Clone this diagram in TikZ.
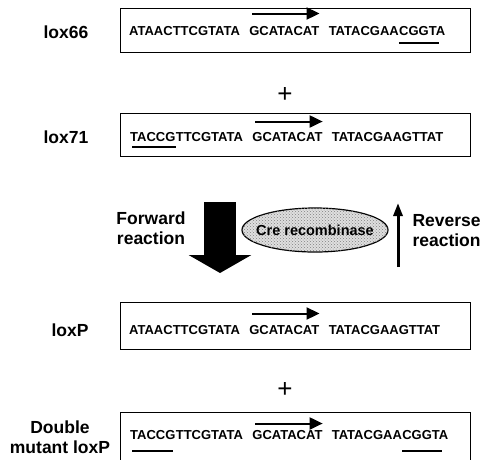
\documentclass[tikz,border=0pt]{standalone}
\usepackage{fontspec}
\setmainfont{Liberation Sans}
\usetikzlibrary{arrows.meta,positioning,shapes.geometric,patterns}

\begin{document}
\begin{tikzpicture}[
    x=1pt, y=-1pt,
    seqbox/.style={draw, line width=1pt, minimum width=350pt, inner sep=0pt},
    seq/.style={inner sep=0pt, text height=9.3pt, text depth=0pt, font=\fontsize{13}{15}\selectfont\bfseries},
    lbl/.style={align=center, font=\fontsize{17.5}{20.5}\selectfont\bfseries},
    plus/.style={font=\fontsize{26}{28}\selectfont, inner sep=0pt},
    dirarrow/.style={line width=2pt, -{Triangle[length=13pt,width=12pt]}},
    mutmark/.style={line width=2.5pt},
    node distance=9pt
]
\clip (0,0) rectangle (484,459);

% lox66
\node[seqbox, minimum height=44pt] (b66) at (295,30) {};
\node[lbl] (n66) at (66,32) {lox66};
\node[seq, anchor=base west] (l66) at (129,35) {ATAACTTCGTATA};
\node[seq, right=of l66] (m66) {GCATACAT};
\node[seq, right=of m66] (r66) {TATACGAA};
\node[seq, right=0pt of r66] (u66) {CGGTA};
\draw[dirarrow] ([xshift=3pt,yshift=12pt]m66.north west) -- ([yshift=12pt]m66.north east);
\draw[mutmark] ([yshift=-8pt]u66.south west) -- ([xshift=-6pt,yshift=-8pt]u66.south east);

\node[plus] (p1) at (285,95) {+};

% lox71
\node[seqbox, minimum height=43pt] (b71) at (295,134.5) {};
\node[lbl] (n71) at (66,137) {lox71};
\node[seq, anchor=base west] (u71) at (130,141) {TACCG};
\node[seq, right=0pt of u71] (l71) {TTCGTATA};
\node[seq, right=of l71] (m71) {GCATACAT};
\node[seq, right=of m71] (r71) {TATACGAAGTTAT};
\draw[dirarrow] ([xshift=3pt,yshift=10pt]m71.north west) -- ([yshift=10pt]m71.north east);
\draw[mutmark] ([xshift=2pt,yshift=-6pt]u71.south west) -- ([yshift=-6pt]u71.south east);

% reaction
\coordinate (fwdtop) at (220,202);
\coordinate (fwdtip) at (220,273);
\draw[line width=32pt, -{Triangle[length=18pt,width=62pt]}] (fwdtop) -- (fwdtip);
\node[lbl] (fwd) at (151,228) {Forward\\reaction};
\node[ellipse, draw, line width=1.2pt, fill=gray!25, postaction={pattern=crosshatch dots, pattern color=gray},
      minimum width=146pt, minimum height=44pt, inner sep=0pt,
      font=\fontsize{14.5}{16}\selectfont\bfseries] (cre) at (315,230) {\makebox[0pt]{Cre recombinase}};
\coordinate (revbot) at (398,267);
\coordinate (revtop) at (398,203);
\draw[line width=3pt, -{Triangle[length=13pt,width=9pt]}] (revbot) -- (revtop);
\node[lbl, align=left, anchor=west] (rev) at (409,230.5) {Reverse\\reaction};

% loxP
\node[seqbox, minimum height=47pt] (bP) at (295,325.5) {};
\node[lbl] (nP) at (70,330) {loxP};
\node[seq, anchor=base west] (lP) at (129,334) {ATAACTTCGTATA};
\node[seq, right=of lP] (mP) {GCATACAT};
\node[seq, right=of mP] (rP) {TATACGAAGTTAT};
\draw[dirarrow] ([xshift=3pt,yshift=11pt]mP.north west) -- ([yshift=11pt]mP.north east);

\node[plus] (p2) at (285,390) {+};

% double mutant loxP
\node[seqbox, minimum height=50pt] (bdm) at (295,437) {};
\node[lbl] (ndm) at (60,437) {Double\\mutant loxP};
\node[seq, anchor=base west] (udm) at (130,439) {TACCG};
\node[seq, right=0pt of udm] (ldm) {TTCGTATA};
\node[seq, right=of ldm] (mdm) {GCATACAT};
\node[seq, right=of mdm] (rdm) {TATACGAA};
\node[seq, right=0pt of rdm] (vdm) {CGGTA};
\draw[dirarrow] ([xshift=3pt,yshift=6pt]mdm.north west) -- ([yshift=6pt]mdm.north east);
\draw[mutmark] ([xshift=2pt,yshift=-12pt]udm.south west) -- ([xshift=-3pt,yshift=-12pt]udm.south east);
\draw[mutmark] ([yshift=-12pt]vdm.south west) -- ([xshift=-6pt,yshift=-12pt]vdm.south east);
\end{tikzpicture}
\end{document}
